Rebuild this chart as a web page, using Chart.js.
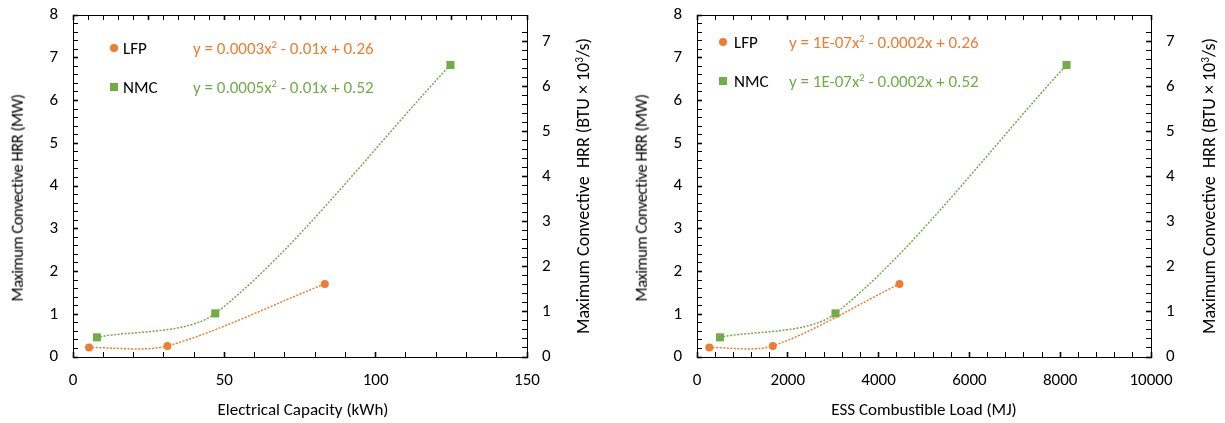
<!DOCTYPE html>
<html><head><meta charset="utf-8">
<script src="https://cdn.jsdelivr.net/npm/chart.js@4/dist/chart.umd.min.js"></script>
<style>
html,body{margin:0;padding:0;background:#fff;}
#wrap{position:relative;width:1225px;height:423px;overflow:hidden;font-family:Carlito,Calibri,Lato,sans-serif;color:#000;background:#fff;}
canvas{position:absolute;top:0;}
.t{position:absolute;white-space:nowrap;font-size:15px;line-height:1;}
.rot{transform:translate(-50%,-50%) rotate(-90deg);}
.hc{transform:translate(-50%,-50%);}
.leg{position:absolute;white-space:nowrap;font-size:17px;line-height:1;transform:translateY(-50%);}
.mk{position:absolute;transform:translate(-50%,-50%);}
sup{font-size:0.62em;vertical-align:0.5em;line-height:0;}
.lt{font-size:16.5px;letter-spacing:-0.45px;}
</style></head>
<body>
<div id="wrap">
  <canvas id="c1" width="612" height="423" style="left:0"></canvas>
  <canvas id="c2" width="613" height="423" style="left:612px"></canvas>

  <div class="t rot lt" style="left:17px;top:198px">Maximum Convective HRR (MW)</div>
  <div class="t rot" style="left:583px;top:186px;font-size:18px">Maximum Convective&nbsp; HRR (BTU × 10<sup>3</sup>/s)</div>
  <div class="t hc" style="left:303px;top:409px;font-size:17px">Electrical Capacity (kWh)</div>

  <div class="t rot lt" style="left:641px;top:198px">Maximum Convective HRR (MW)</div>
  <div class="t rot" style="left:1209px;top:186px;font-size:18px">Maximum Convective&nbsp; HRR (BTU × 10<sup>3</sup>/s)</div>
  <div class="t hc" style="left:924px;top:409px;font-size:17px">ESS Combustible Load (MJ)</div>

  <div class="mk" style="left:114px;top:48px;width:8px;height:8px;border-radius:50%;background:#ED7D31"></div>
  <div class="leg" style="left:123px;top:48px">LFP</div>
  <div class="leg" style="left:193px;top:48px;color:#ED7D31">y = 0.0003x<sup>2</sup> - 0.01x + 0.26</div>
  <div class="mk" style="left:114px;top:87px;width:8px;height:8px;background:#70AD47"></div>
  <div class="leg" style="left:123px;top:87px">NMC</div>
  <div class="leg" style="left:193px;top:87px;color:#70AD47">y = 0.0005x<sup>2</sup> - 0.01x + 0.52</div>

  <div class="mk" style="left:723px;top:42px;width:8px;height:8px;border-radius:50%;background:#ED7D31"></div>
  <div class="leg" style="left:734px;top:42px">LFP</div>
  <div class="leg" style="left:789px;top:42px;color:#ED7D31">y = 1E-07x<sup>2</sup> - 0.0002x + 0.26</div>
  <div class="mk" style="left:723px;top:81px;width:8px;height:8px;background:#70AD47"></div>
  <div class="leg" style="left:734px;top:81px">NMC</div>
  <div class="leg" style="left:789px;top:81px;color:#70AD47">y = 1E-07x<sup>2</sup> - 0.0002x + 0.52</div>
</div>
<script>
// ---- data ----
const hrrLFP = [0.22, 0.26, 1.71];          // MW
const hrrNMC = [0.46, 1.02, 6.83];          // MW
const capacityLFP = [5.3, 31.2, 83.2];      // kWh
const capacityNMC = [7.9, 47.0, 124.7];     // kWh
const loadLFP = [272, 1670, 4460];          // MJ
const loadNMC = [505, 3050, 8140];          // MJ

const capacityTickLabels = [0, 50, 100, 150];
const loadTickLabels = [0, 2000, 4000, 6000, 8000, 10000];
const mwTickLabels = [0, 1, 2, 3, 4, 5, 6, 7, 8];
const btuTickLabels = [0, 1, 2, 3, 4, 5, 6, 7];
const MW_TO_KBTU_S = 0.947817;

const ORANGE = '#ED7D31';
const GREEN = '#70AD47';
const FONT = 'Carlito, Calibri, Lato, sans-serif';

function isOn(v, list) { return list.some(t => Math.abs(t - v) < 1e-6); }

function makeChart(id, xLFP, xNMC, xLabels, minorStep, topStep, topMajor, box) {
  const xMax = xLabels[xLabels.length - 1];
  const yMax = mwTickLabels[mwTickLabels.length - 1];
  const tickFont = { family: FONT, size: 17 };
  const gridBase = { drawOnChartArea: false, tickLength: -5, tickColor: '#000' };
  const border = { display: true, color: '#000', width: 1 };
  const fixH = h => s => { s.height = h; s.paddingLeft = 0; s.paddingRight = 0; };
  const fixW = w => s => { s.width = w; s.paddingTop = 0; s.paddingBottom = 0; };
  const lineStyle = { showLine: true, tension: 0.3, borderWidth: 1.5, borderDash: [2, 1.5], pointBorderWidth: 0 };
  return new Chart(document.getElementById(id), {
    type: 'scatter',
    data: {
      datasets: [
        Object.assign({
          label: 'LFP',
          data: xLFP.map((x, i) => ({ x, y: hrrLFP[i] })),
          borderColor: ORANGE, backgroundColor: ORANGE, pointBackgroundColor: ORANGE, pointBorderColor: ORANGE,
          pointStyle: 'circle', pointRadius: 4,
          xAxisID: 'x', yAxisID: 'y'
        }, lineStyle),
        Object.assign({
          label: 'NMC',
          data: xNMC.map((x, i) => ({ x, y: hrrNMC[i] })),
          borderColor: GREEN, backgroundColor: GREEN, pointBackgroundColor: GREEN, pointBorderColor: GREEN,
          pointStyle: 'rect', pointRadius: 5.7,
          xAxisID: 'x', yAxisID: 'y'
        }, lineStyle)
      ]
    },
    options: {
      responsive: false, animation: false, devicePixelRatio: 1,
      layout: { padding: 0 },
      plugins: { legend: { display: false }, tooltip: { enabled: false } },
      scales: {
        x: {
          type: 'linear', position: 'bottom', min: 0, max: xMax,
          ticks: { stepSize: minorStep, autoSkip: false, maxRotation: 0, minRotation: 0, padding: 19,
                   font: tickFont, color: '#000',
                   callback: v => isOn(v, xLabels) ? String(v) : '' },
          grid: Object.assign({}, gridBase, { tickWidth: c => (c.tick && isOn(c.tick.value, xLabels)) ? 1.6 : 1 }),
          border: border,
          afterFit: fixH(box.bottom)
        },
        x2: {
          type: 'linear', position: 'top', min: 0, max: xMax,
          ticks: { display: false, stepSize: topStep, autoSkip: false },
          grid: Object.assign({}, gridBase, { tickWidth: c => (c.tick && Math.abs(c.tick.value / topMajor - Math.round(c.tick.value / topMajor)) < 1e-6) ? 1.6 : 1 }),
          border: border,
          afterFit: fixH(box.top)
        },
        y: {
          type: 'linear', position: 'left', min: 0, max: yMax,
          ticks: { stepSize: 0.2, autoSkip: false, padding: 20, font: tickFont, color: '#000',
                   callback: v => isOn(v, mwTickLabels) ? String(Math.round(v)) : '' },
          grid: Object.assign({}, gridBase, { tickWidth: c => (c.tick && isOn(c.tick.value, mwTickLabels)) ? 1.6 : 1 }),
          border: border,
          afterFit: fixW(box.left)
        },
        y2: {
          type: 'linear', position: 'right', min: 0, max: yMax * MW_TO_KBTU_S,
          ticks: { stepSize: 0.2, autoSkip: false, padding: 20, font: tickFont, color: '#000',
                   callback: v => isOn(v, btuTickLabels) ? String(Math.round(v)) : '' },
          grid: Object.assign({}, gridBase, { tickWidth: c => (c.tick && isOn(c.tick.value, btuTickLabels)) ? 1.6 : 1 }),
          border: border,
          afterFit: fixW(box.right)
        }
      }
    }
  });
}

makeChart('c1', capacityLFP, capacityNMC, capacityTickLabels, 10, 5, 25,
          { left: 73, right: 85, top: 15, bottom: 66 });
makeChart('c2', loadLFP, loadNMC, loadTickLabels, 400, 400, 2000,
          { left: 85, right: 74, top: 15, bottom: 66 });
</script>
</body></html>
